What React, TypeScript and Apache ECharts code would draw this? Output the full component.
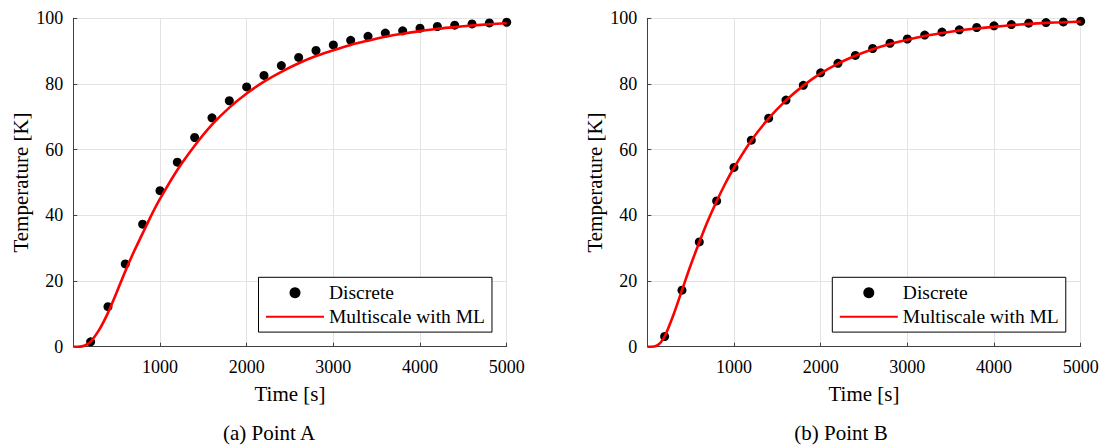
import React, { useEffect, useRef } from "react";
import * as echarts from "echarts";

const FONT = "Liberation Serif";

// Discrete solution samples (time in s, temperature in K)
const discreteTime = [200, 400, 600, 800, 1000, 1200, 1400, 1600, 1800, 2000, 2200, 2400, 2600, 2800, 3000, 3200, 3400, 3600, 3800, 4000, 4200, 4400, 4600, 4800, 5000];
const discreteA = [1.5, 12.2, 25.2, 37.3, 47.5, 56.2, 63.7, 69.7, 74.9, 79.1, 82.6, 85.6, 88.1, 90.2, 91.9, 93.3, 94.5, 95.5, 96.2, 97.0, 97.5, 97.9, 98.3, 98.6, 98.8];
const discreteB = [3.1, 17.2, 31.9, 44.4, 54.6, 62.9, 69.6, 75.1, 79.6, 83.4, 86.3, 88.7, 90.8, 92.4, 93.7, 94.9, 95.8, 96.5, 97.2, 97.7, 98.1, 98.5, 98.7, 98.9, 99.1];

// Multiscale with ML curves
const modelTime = [0, 50, 100, 150, 200, 300, 400, 500, 600, 700, 800, 900, 1000, 1200, 1400, 1600, 1800, 2000, 2200, 2400, 2600, 2800, 3000, 3200, 3400, 3600, 3800, 4000, 4200, 4400, 4600, 4800, 5000];
const modelA = [0, 0, 0.1, 0.6, 1.5, 5.2, 10.3, 16.5, 23.0, 29.0, 34.5, 40.0, 45.0, 53.8, 61.2, 67.6, 72.8, 77.1, 80.7, 83.7, 86.3, 88.5, 90.3, 91.9, 93.2, 94.4, 95.3, 96.1, 96.8, 97.3, 97.8, 98.2, 98.5];
const modelB = [0, 0, 0.2, 1.2, 3.1, 9.6, 17.2, 24.8, 31.8, 38.4, 44.3, 49.7, 54.5, 62.8, 69.5, 75.0, 79.5, 83.2, 86.2, 88.6, 90.6, 92.2, 93.5, 94.6, 95.5, 96.3, 96.9, 97.4, 97.9, 98.3, 98.6, 98.8, 99.0];

const seriesNames = ["Discrete", "Multiscale with ML"];
const captions = ["(a) Point A", "(b) Point B"];
const xLabel = "Time [s]";
const yLabel = "Temperature [K]";

const pairs = (xs: number[], ys: number[]) => xs.map((x, i) => [x, ys[i]]);

export default function App() {
  const ref = useRef<HTMLDivElement>(null);
  useEffect(() => {
    const chart = echarts.init(ref.current!, null, { renderer: "svg" });
    const gridLefts = [73.3, 647.3];
    const axisColor = "#404040";
    const xAxes = gridLefts.map((_, i) => ({
      type: "value",
      gridIndex: i,
      min: 0,
      max: 5000,
      interval: 1000,
      name: xLabel,
      nameLocation: "middle",
      nameGap: 37,
      nameTextStyle: { fontFamily: FONT, fontSize: 21, color: "#000", fontWeight: "normal" },
      axisLine: { show: true, lineStyle: { color: axisColor, width: 1 } },
      axisTick: { show: true, inside: true, length: 4, lineStyle: { color: axisColor } },
      axisLabel: {
        fontFamily: FONT,
        fontSize: 18,
        color: "#000",
        margin: 11,
        formatter: (v: number) => (v === 0 ? "" : String(v)),
      },
      splitLine: { show: true, lineStyle: { color: "#e3e3e3", width: 1 } },
    }));
    const yAxes = gridLefts.map((_, i) => ({
      type: "value",
      gridIndex: i,
      min: 0,
      max: 100,
      interval: 20,
      name: yLabel,
      nameLocation: "middle",
      nameGap: 42,
      nameTextStyle: { fontFamily: FONT, fontSize: 21, color: "#000", fontWeight: "normal" },
      axisLine: { show: true, lineStyle: { color: axisColor, width: 1 } },
      axisTick: { show: true, inside: true, length: 4, lineStyle: { color: axisColor } },
      axisLabel: { fontFamily: FONT, fontSize: 18, color: "#000", margin: 10, formatter: (v: number) => String(v) },
      splitLine: { show: true, lineStyle: { color: "#e3e3e3", width: 1 } },
    }));
    const discrete = [discreteA, discreteB];
    const model = [modelA, modelB];
    const series: any[] = [];
    gridLefts.forEach((_, i) => {
      series.push({
        type: "scatter",
        name: seriesNames[0],
        xAxisIndex: i,
        yAxisIndex: i,
        data: pairs(discreteTime, discrete[i]),
        symbol: "circle",
        symbolSize: 9,
        itemStyle: { color: "#000", opacity: 1 },
        z: 2,
      });
      series.push({
        type: "line",
        name: seriesNames[1],
        xAxisIndex: i,
        yAxisIndex: i,
        data: pairs(modelTime, model[i]),
        showSymbol: false,
        symbol: "none",
        smooth: 0.3,
        lineStyle: { color: "#ff0000", width: 2.6 },
        itemStyle: { color: "#ff0000" },
        z: 3,
      });
    });
    const legendLefts = [258.5, 832.3];
    const legends = legendLefts.map((l) => ({
      left: l,
      top: 277.3,
      orient: "vertical",
      data: [
        { name: seriesNames[0], icon: "circle", itemStyle: { color: "#000", opacity: 1 } },
        { name: seriesNames[1], itemStyle: { color: "rgba(0,0,0,0)", borderWidth: 0, opacity: 0 } },
      ],
      itemWidth: 58,
      itemHeight: 11,
      itemGap: 4,
      padding: [5.4, 7, 5.4, 6.5],
      backgroundColor: "#fff",
      borderColor: "#000",
      borderWidth: 1,
      borderRadius: 0,
      selectedMode: false,
      textStyle: { fontFamily: FONT, fontSize: 19.5, color: "#000", lineHeight: 20 },
    }));
    const captionX = [269, 841];
    chart.setOption({
      animation: false,
      backgroundColor: "#fff",
      textStyle: { fontFamily: FONT },
      grid: gridLefts.map((l) => ({ left: l, top: 18.3, width: 433.4, height: 328.4, containLabel: false })),
      xAxis: xAxes,
      yAxis: yAxes,
      legend: legends,
      series,
      graphic: captionX.map((x, i) => ({
        type: "text",
        x,
        y: 433,
        style: {
          text: captions[i],
          fontFamily: FONT,
          fontSize: 21,
          fill: "#000",
          align: "center",
          verticalAlign: "middle",
        },
      })),
    });
    return () => chart.dispose();
  }, []);
  return (
    <div
      ref={ref}
      style={{ position: "fixed", left: 0, top: 0, width: 1104, height: 446, background: "#fff" }}
    />
  );
}
